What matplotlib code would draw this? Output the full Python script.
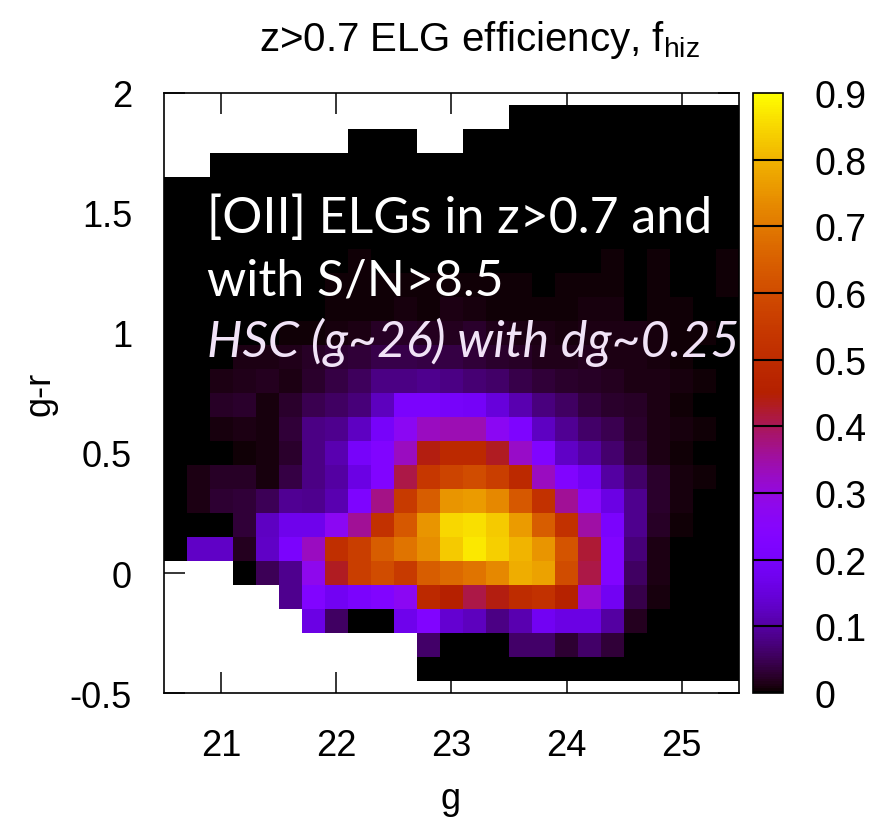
import numpy as np
import matplotlib
matplotlib.use("Agg")
import matplotlib.pyplot as plt

# bin centres
g_bins = [20.6, 20.8, 21.0, 21.2, 21.4, 21.6, 21.8, 22.0, 22.2, 22.4, 22.6, 22.8, 23.0,
          23.2, 23.4, 23.6, 23.8, 24.0, 24.2, 24.4, 24.6, 24.8, 25.0, 25.2, 25.4]
gr_bins = [2.0, 1.9, 1.8, 1.7, 1.6, 1.5, 1.4, 1.3, 1.2, 1.1, 1.0, 0.9, 0.8, 0.7, 0.6,
           0.5, 0.4, 0.3, 0.2, 0.1, 0.0, -0.1, -0.2, -0.3, -0.4, -0.5]

N = np.nan
# f_hiz per cell, one row per g-r bin (top row = 2.0)
f_hiz = [
    [N]*25,
    [N]*15 + [0]*10,
    [N]*8 + [0, 0, 0] + [N, N] + [0]*12,
    [N, N] + [0]*23,
    [0]*25,
    [0]*25,
    [0]*23 + [0.003, 0.003],
    [0, 0, 0, 0, 0, 0, 0, 0.003, 0.004, 0.002, 0.002, 0.002, 0.002, 0.002, 0.002, 0.002, 0.002, 0.002,
     0.003, 0.004, 0, 0.004, 0.003, 0.003, 0.004],
    [0, 0, 0, 0, 0, 0, 0, 0.004, 0.005, 0.005, 0.005, 0.004, 0.006, 0.007, 0.005, 0.004, 0.003, 0.004,
     0.005, 0.006, 0, 0.004, 0.003, 0.003, 0.004],
    [0, 0, 0, 0, 0, 0, 0.003, 0.005, 0.007, 0.007, 0.009, 0.007, 0.012, 0.01, 0.007, 0.005, 0.004, 0.004,
     0.008, 0.009, 0, 0.005, 0.004, 0.003, 0.003],
    [0, 0, 0, 0, 0, 0.004, 0.007, 0.01, 0.014, 0.022, 0.024, 0.02, 0.02, 0.027, 0.017, 0.014, 0.011, 0.009,
     0.014, 0.012, 0.011, 0.009, 0.006, 0.005, 0.002],
    [0, 0, 0, 0.011, 0.014, 0.017, 0.022, 0.029, 0.032, 0.043, 0.045, 0.041, 0.039, 0.032, 0.027, 0.022,
     0.016, 0.016, 0.018, 0.012, 0.011, 0.009, 0.006, 0.003, 0.001],
    [0, 0, 0.012, 0.017, 0.018, 0.013, 0.028, 0.042, 0.056, 0.08, 0.08, 0.085, 0.08, 0.068, 0.06, 0.045,
     0.033, 0.028, 0.022, 0.018, 0.014, 0.011, 0.008, 0.004, 0.002],
    [0, 0, 0.022, 0.028, 0.009, 0.026, 0.048, 0.058, 0.072, 0.12, 0.21, 0.21, 0.2, 0.19, 0.15, 0.11,
     0.075, 0.058, 0.038, 0.028, 0.022, 0.014, 0.007, 0.003, 0.0015],
    [0, 0, 0.009, 0.013, 0.01, 0.033, 0.08, 0.085, 0.125, 0.2, 0.27, 0.33, 0.34, 0.34, 0.27, 0.22,
     0.125, 0.09, 0.06, 0.047, 0.027, 0.014, 0.008, 0.004, 0.001],
    [0, 0, 0.003, 0.006, 0.009, 0.025, 0.08, 0.11, 0.2, 0.23, 0.33, 0.44, 0.49, 0.49, 0.43, 0.32,
     0.23, 0.13, 0.1, 0.065, 0.032, 0.014, 0.006, 0.002, 0.001],
    [0, 0.012, 0.024, 0.022, 0.009, 0.039, 0.08, 0.1, 0.16, 0.23, 0.41, 0.54, 0.58, 0.6, 0.56, 0.49,
     0.33, 0.23, 0.18, 0.1, 0.06, 0.027, 0.009, 0.004, 0.001],
    [0, 0.012, 0.03, 0.035, 0.05, 0.09, 0.085, 0.11, 0.22, 0.37, 0.55, 0.64, 0.75, 0.76, 0.73, 0.63,
     0.52, 0.36, 0.25, 0.16, 0.085, 0.027, 0.009, 0.002, 0],
    [0, 0, 0, 0.035, 0.125, 0.17, 0.17, 0.27, 0.36, 0.52, 0.63, 0.75, 0.85, 0.86, 0.83, 0.76,
     0.64, 0.52, 0.35, 0.21, 0.085, 0.022, 0.004, 0, 0],
    [0, 0.13, 0.13, 0.02, 0.13, 0.21, 0.33, 0.51, 0.56, 0.64, 0.69, 0.74, 0.83, 0.87, 0.84, 0.8,
     0.75, 0.62, 0.42, 0.23, 0.072, 0.014, 0, 0, 0],
    [N, N, N, 0, 0.05, 0.085, 0.28, 0.43, 0.56, 0.6, 0.55, 0.64, 0.67, 0.69, 0.73, 0.79,
     0.77, 0.6, 0.41, 0.23, 0.057, 0.012, 0, 0, 0],
    [N, N, N, N, N, 0.085, 0.23, 0.18, 0.21, 0.23, 0.27, 0.49, 0.45, 0.41, 0.44, 0.5,
     0.52, 0.46, 0.31, 0.18, 0.043, 0.009, 0, 0, 0.003],
    [N, N, N, N, N, N, 0.16, 0.057, 0, 0, 0.17, 0.23, 0.14, 0.12, 0.08, 0.11,
     0.18, 0.16, 0.16, 0.1, 0.02, 0, 0, 0, 0.003],
    [N]*11 + [0.06, 0, 0, 0, 0.06, 0.06, 0.03, 0.06, 0.035, 0, 0, 0, 0, 0],
    [N]*11 + [0]*14,
    [N]*25,
]

cb_ticks = [0, 0.1, 0.2, 0.3, 0.4, 0.5, 0.6, 0.7, 0.8, 0.9]
x_ticks = [21, 22, 23, 24, 25]
y_ticks = [-0.5, 0, 0.5, 1, 1.5, 2]

plt.rcParams["font.family"] = "Liberation Sans"
plt.rcParams["mathtext.fontset"] = "custom"
plt.rcParams["mathtext.rm"] = "Liberation Sans"

W, H = 876, 829
FS = 26
fig = plt.figure(figsize=(W / 100, H / 100), dpi=100)
ax = fig.add_axes([164 / W, 1 - 694 / H, 575 / W, 600 / H])
cax = fig.add_axes([753 / W, 1 - 694 / H, 30 / W, 600 / H])

Z = np.ma.masked_invalid(np.array(f_hiz, dtype=float))
mesh = ax.pcolormesh(g_bins, gr_bins, Z, cmap="gnuplot", vmin=0, vmax=0.9, shading="nearest")
ax.set_xlim(20.5, 25.5)
ax.set_ylim(-0.5, 2)
ax.set_xticks(x_ticks)
ax.set_xticklabels([str(t) for t in x_ticks])
ax.set_yticks(y_ticks)
ax.set_yticklabels(["-0.5", "0", "0.5", "1", "1.5", "2"])
ax.tick_params(axis="both", direction="in", length=15, width=1.1, top=True, right=True,
               labelsize=FS)
ax.tick_params(axis="x", pad=25)
ax.tick_params(axis="y", pad=23)
for s in ax.spines.values():
    s.set_linewidth(1.2)

cb = fig.colorbar(mesh, cax=cax, ticks=cb_ticks)
cb.ax.tick_params(length=0, labelsize=FS + 1, pad=23)
cb.ax.set_yticklabels(["0", "0.1", "0.2", "0.3", "0.4", "0.5", "0.6", "0.7", "0.8", "0.9"])
for t in cb_ticks[1:-1]:
    cax.axhline(t, color="black", lw=1.5)
cb.outline.set_linewidth(1.2)

fig.text(479 / W, 1 - 40 / H, r"z>0.7 ELG efficiency, f$_{\mathrm{hiz}}$", ha="center",
         va="center", fontsize=29)
fig.text(451 / W, 1 - 800 / H, "g", ha="center", va="center", fontsize=FS)
fig.text(40 / W, 1 - 394 / H, "g-r", ha="center", va="center", fontsize=FS, rotation=90)

ax.text(207 / W, 1 - 233 / H, "[OII] ELGs in z>0.7 and", transform=fig.transFigure,
        color="white", fontsize=36, family="Lato", va="baseline")
ax.text(207 / W, 1 - 296 / H, "with S/N>8.5", transform=fig.transFigure,
        color="white", fontsize=36, family="Lato", va="baseline")
ax.text(207 / W, 1 - 357 / H, "HSC (g~26) with dg~0.25", transform=fig.transFigure,
        color="#f1e3f7", fontsize=36, family="Lato", style="italic", va="baseline")

fig.savefig("out.png", dpi=100)
